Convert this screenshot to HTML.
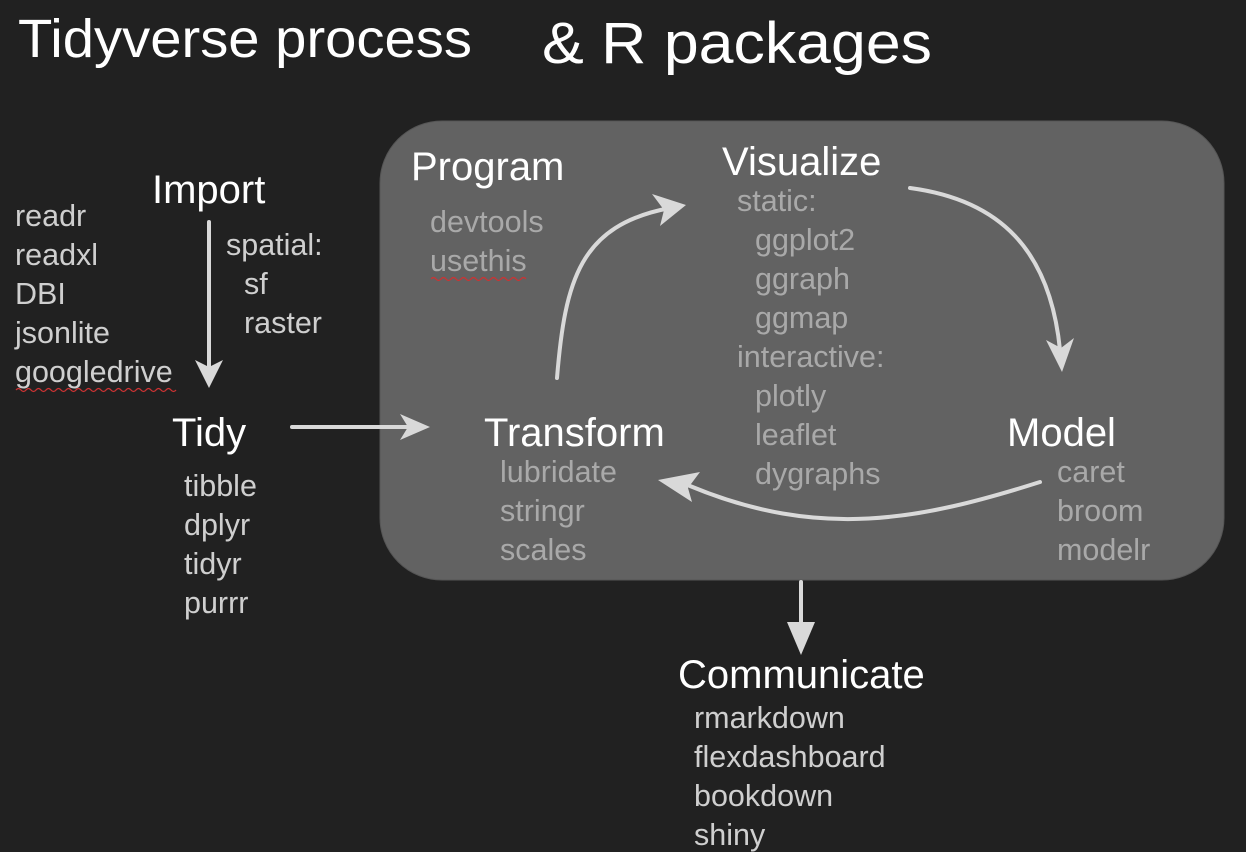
<!DOCTYPE html>
<html><head><meta charset="utf-8"><style>
html,body{margin:0;padding:0;background:#212121;}
svg{display:block;}
text{font-family:"Liberation Sans",Arial,sans-serif;}
.h{fill:#fff;font-size:40px;}
.l{fill:#cfcfcf;font-size:30.5px;}
.g{fill:#a9a9a9;font-size:30.5px;}
</style></head><body>
<svg width="1246" height="852" viewBox="0 0 1246 852" xmlns="http://www.w3.org/2000/svg">
<rect width="1246" height="852" fill="#212121"/>
<text x="18" y="57" fill="#fff" font-size="54" textLength="454" lengthAdjust="spacingAndGlyphs">Tidyverse process</text>
<text x="542" y="63" fill="#fff" font-size="58" textLength="390" lengthAdjust="spacingAndGlyphs">&amp; R packages</text>
<rect x="380" y="121" width="844" height="459" rx="62" fill="#626262" stroke="#555" stroke-width="1"/>
<g stroke="#d9d9d9" stroke-width="4" fill="none" stroke-linecap="round">
<line x1="209" y1="222" x2="209" y2="382"/>
<path d="M195,360 L209,388 L223,360 L209,367 Z" fill="#d9d9d9" stroke="none"/>
<line x1="292" y1="427" x2="415" y2="427"/>
<path d="M400,414 L430,427 L400,440 L408,427 Z" fill="#d9d9d9" stroke="none"/>
<path d="M557,378 C565,280 580,225 670,208"/>
<path d="M652,194 L686,205 L660,226 L664,210 Z" fill="#d9d9d9" stroke="none"/>
<path d="M910,188 C1000,200 1050,250 1060,350"/>
<path d="M1046,340 L1062,372 L1074,338 L1061,348 Z" fill="#d9d9d9" stroke="none"/>
<path d="M1040,482 C920,520 820,540 690,486"/>
<path d="M700,472 L658,480 L692,502 L688,488 Z" fill="#d9d9d9" stroke="none"/>
<line x1="801" y1="582" x2="801" y2="630"/>
<path d="M787,622 L801,655 L815,622 Z" fill="#d9d9d9" stroke="none"/>
</g>
<text class="h" x="152" y="203">Import</text>
<g class="l"><text x="15" y="226">readr</text><text x="15" y="265">readxl</text><text x="15" y="304">DBI</text><text x="15" y="343">jsonlite</text><text x="15" y="382">googledrive</text>
<text x="226" y="255">spatial:</text><text x="244" y="294">sf</text><text x="244" y="333">raster</text></g>
<path d="M16,390 q2.5,-3 5,0 t5,0 t5,0 t5,0 t5,0 t5,0 t5,0 t5,0 t5,0 t5,0 t5,0 t5,0 t5,0 t5,0 t5,0 t5,0 t5,0 t5,0 t5,0 t5,0 t5,0 t5,0 t5,0 t5,0 t5,0 t5,0 t5,0 t5,0 t5,0 t5,0 t5,0 t5,0" stroke="#c33" stroke-width="1.3" fill="none"/>
<text class="h" x="172" y="446">Tidy</text>
<g class="l"><text x="184" y="496">tibble</text><text x="184" y="535">dplyr</text><text x="184" y="574">tidyr</text><text x="184" y="613">purrr</text></g>
<text class="h" x="411" y="180">Program</text>
<g class="g"><text x="430" y="232">devtools</text><text x="430" y="271">usethis</text></g>
<path d="M431,279 q2.5,-3 5,0 t5,0 t5,0 t5,0 t5,0 t5,0 t5,0 t5,0 t5,0 t5,0 t5,0 t5,0 t5,0 t5,0 t5,0 t5,0 t5,0 t5,0 t5,0" stroke="#c33" stroke-width="1.3" fill="none"/>
<text class="h" x="722" y="175">Visualize</text>
<g class="g"><text x="737" y="211">static:</text><text x="755" y="250">ggplot2</text><text x="755" y="289">ggraph</text><text x="755" y="328">ggmap</text><text x="737" y="367">interactive:</text><text x="755" y="406">plotly</text><text x="755" y="445">leaflet</text><text x="755" y="484">dygraphs</text></g>
<text class="h" x="484" y="446">Transform</text>
<g class="g"><text x="500" y="482">lubridate</text><text x="500" y="521">stringr</text><text x="500" y="560">scales</text></g>
<text class="h" x="1007" y="446">Model</text>
<g class="g"><text x="1057" y="482">caret</text><text x="1057" y="521">broom</text><text x="1057" y="560">modelr</text></g>
<text class="h" x="678" y="688">Communicate</text>
<g class="l"><text x="694" y="728">rmarkdown</text><text x="694" y="767">flexdashboard</text><text x="694" y="806">bookdown</text><text x="694" y="845">shiny</text></g>
</svg>
</body></html>
